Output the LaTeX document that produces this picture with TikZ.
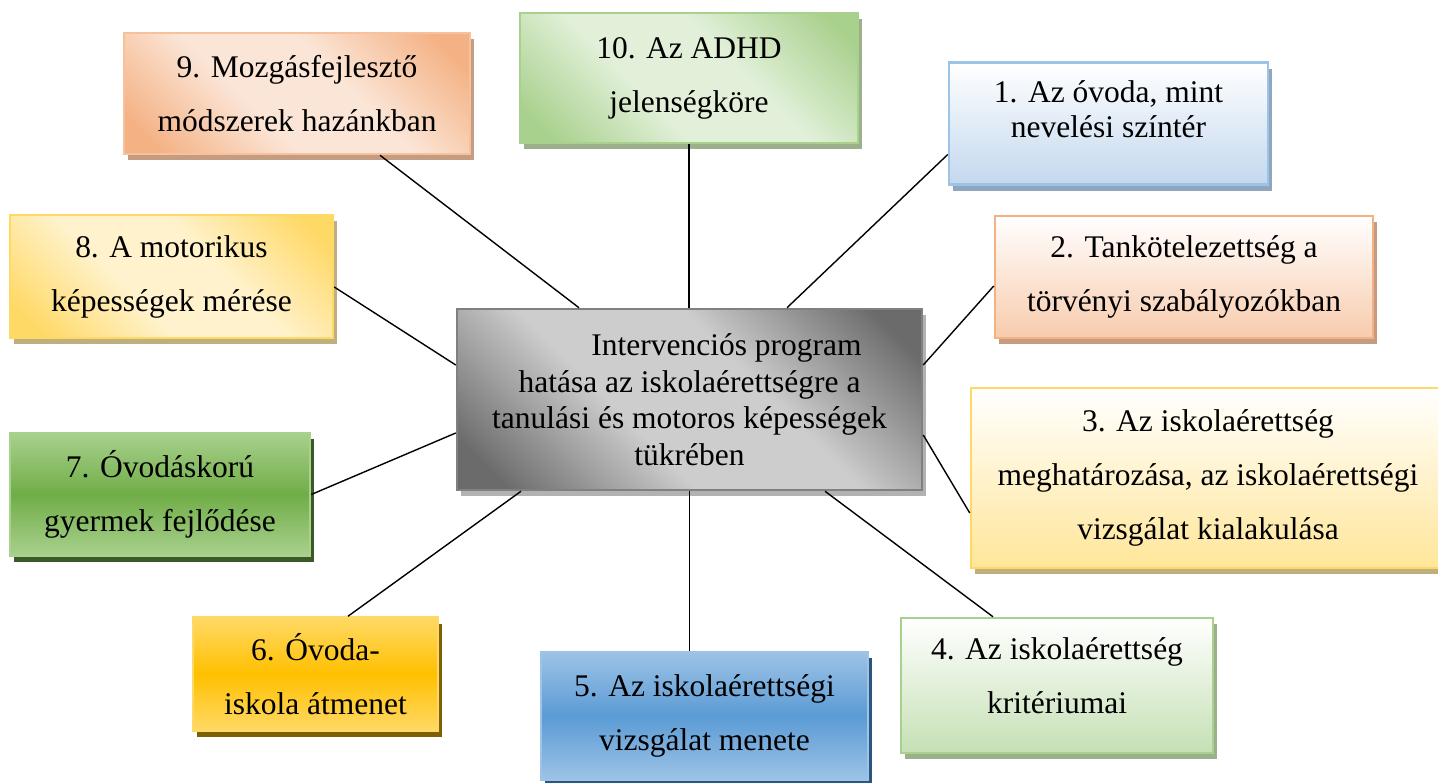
\documentclass[tikz,border=0pt]{standalone}
\usepackage{fontspec}
\setmainfont{Liberation Serif}
\usepackage{xcolor}
\usetikzlibrary{shadows}

\definecolor{salmon}{HTML}{F4B183}
\definecolor{salmonlt}{HTML}{FBE5D6}
\definecolor{salmonsh}{HTML}{C49C82}
\definecolor{leaf}{HTML}{A9D18E}
\definecolor{leaflt}{HTML}{E2F0D9}
\definecolor{leafsh}{HTML}{9CB08C}
\definecolor{leafdk}{HTML}{70AD47}
\definecolor{leafdksh}{HTML}{3B5A26}
\definecolor{sky}{HTML}{9DC3E6}
\definecolor{skylt}{HTML}{C3D8EE}
\definecolor{skysh}{HTML}{8FA6BF}
\definecolor{skydk}{HTML}{5B9BD5}
\definecolor{skydksh}{HTML}{2A5680}
\definecolor{gold}{HTML}{FFD966}
\definecolor{goldlt}{HTML}{FFF2CC}
\definecolor{goldsh}{HTML}{BFAE80}
\definecolor{golddk}{HTML}{FFC000}
\definecolor{golddksh}{HTML}{7F6000}
\definecolor{peach}{HTML}{F8CBAD}
\definecolor{butter}{HTML}{FFE699}
\definecolor{mint}{HTML}{C5E0B4}
\definecolor{slate}{HTML}{6B6B6B}
\definecolor{silver}{HTML}{CDCDCD}

% diagonal shading, dark corners and a broad light band
\colorlet{diagdark}{gray}
\colorlet{diaglight}{white}
\pgfdeclareverticalshading[diagdark,diaglight]{diagshade}{100bp}{color(0bp)=(diagdark); color(20bp)=(diagdark); color(41bp)=(diaglight); color(59bp)=(diaglight); color(80bp)=(diagdark); color(100bp)=(diagdark)}

\begin{document}
\begin{tikzpicture}[
        x=1pt, y=-1pt,
        topic/.style = {rectangle, line width=2.5pt, align=center, inner sep=4pt,
            font=\fontsize{31.5}{54}\selectfont},
        diag/.style n args = {3}{/utils/exec={\colorlet{diagdark}{#1}\colorlet{diaglight}{#2}},
            shade, shading=diagshade, shading angle=-45, draw=#3},
        vert/.style n args = {2}{top color=white, bottom color=#1, draw=#2},
        band/.style n args = {3}{top color=#1, bottom color=#1, middle color=#2, draw=#3},
        dropsh/.style = {drop shadow={shadow xshift=3.5pt, shadow yshift=-6pt, fill=#1, opacity=1}},
        hub/.style = {rectangle, line width=2.5pt, align=center, inner sep=4pt,
            font=\fontsize{31.5}{36.5}\selectfont},
        link/.style = {line width=1.4pt}
    ]
    \path[use as bounding box, fill=white] (0,0) rectangle (1438,782);
    \clip (0,0) rectangle (1438,782);

    % central topic
    \node[hub, diag={slate}{silver}{gray}, dropsh=gray!60,
        minimum width=465pt, minimum height=181pt] (c) at (689.5,399.5)
        {\hspace*{74pt}Intervenciós program\\hatása az iskolaérettségre a\\tanulási és motoros képességek\\tükrében};

    % chapters
    \node[topic, vert={skylt}{sky}, dropsh=skysh, minimum width=319pt, minimum height=122pt,
        font=\fontsize{31.5}{35.5}\selectfont, text depth=29pt] (b1) at (1108.5,123.5)
        {1. Az óvoda, mint\\nevelési színtér};
    \node[topic, vert={peach}{salmon}, dropsh=salmonsh, minimum width=378pt, minimum height=122pt] (b2) at (1184,277)
        {2. Tankötelezettség a\\törvényi szabályozókban};
    \node[topic, vert={butter}{gold}, dropsh=goldsh, minimum width=474pt, minimum height=180pt] (b3) at (1208,478)
        {3. Az iskolaérettség\\meghatározása, az iskolaérettségi\\vizsgálat kialakulása};
    \node[topic, vert={mint}{leaf}, dropsh=leafsh, minimum width=312pt, minimum height=135pt,
        text depth=20pt] (b4) at (1057,685.5)
        {4. Az iskolaérettség\\kritériumai};
    \node[topic, band={sky}{skydk}{sky}, dropsh=skydksh, minimum width=327pt, minimum height=128pt] (b5) at (704.5,716)
        {5. Az iskolaérettségi\\vizsgálat menete};
    \node[topic, band={gold}{golddk}{gold}, dropsh=golddksh, minimum width=245pt, minimum height=113pt] (b6) at (315.5,674)
        {6. Óvoda-\\iskola átmenet};
    \node[topic, band={leaf}{leafdk}{leaf}, dropsh=leafdksh, minimum width=300pt, minimum height=123pt] (b7) at (160,494.5)
        {7. Óvodáskorú\\gyermek fejlődése};
    \node[topic, diag={gold}{goldlt}{gold}, dropsh=goldsh, minimum width=323pt, minimum height=123pt] (b8) at (171.5,276.5)
        {8. A motorikus\\képességek mérése};
    \node[topic, diag={salmon}{salmonlt}{salmon!80}, dropsh=salmonsh, minimum width=346pt, minimum height=121pt] (b9) at (297,93.5)
        {9. Mozgásfejlesztő\\módszerek hazánkban};
    \node[topic, diag={leaf}{leaflt}{leaf}, dropsh=leafsh, minimum width=338pt, minimum height=130pt] (b10) at (689,78)
        {10. Az ADHD\\jelenségköre};

    % spokes
    \draw[link] (b10.south) -- (b10.south |- c.north);
    \draw[link] ([xshift=83pt]b9.south) -- ([xshift=-110.5pt]c.north);
    \draw[link] ([yshift=-31pt]b1.west) -- ([xshift=97.5pt]c.north);
    \draw[link] ([yshift=-10.5pt]b8.east) -- ([yshift=34.5pt]c.west);
    \draw[link] ([yshift=-9pt]b2.west) -- ([yshift=34.5pt]c.east);
    \draw[link] (b7.east) -- ([yshift=-33.5pt]c.west);
    \draw[link] ([yshift=-35.5pt]c.east) -- ([yshift=-35pt]b3.west);
    \draw[link] ([xshift=32.5pt]b6.north) -- ([xshift=-168.5pt]c.south);
    \draw[link] (c.south) -- (c.south |- b5.north);
    \draw[link] ([xshift=135.5pt]c.south) -- ([xshift=-64pt]b4.north);
\end{tikzpicture}
\end{document}
